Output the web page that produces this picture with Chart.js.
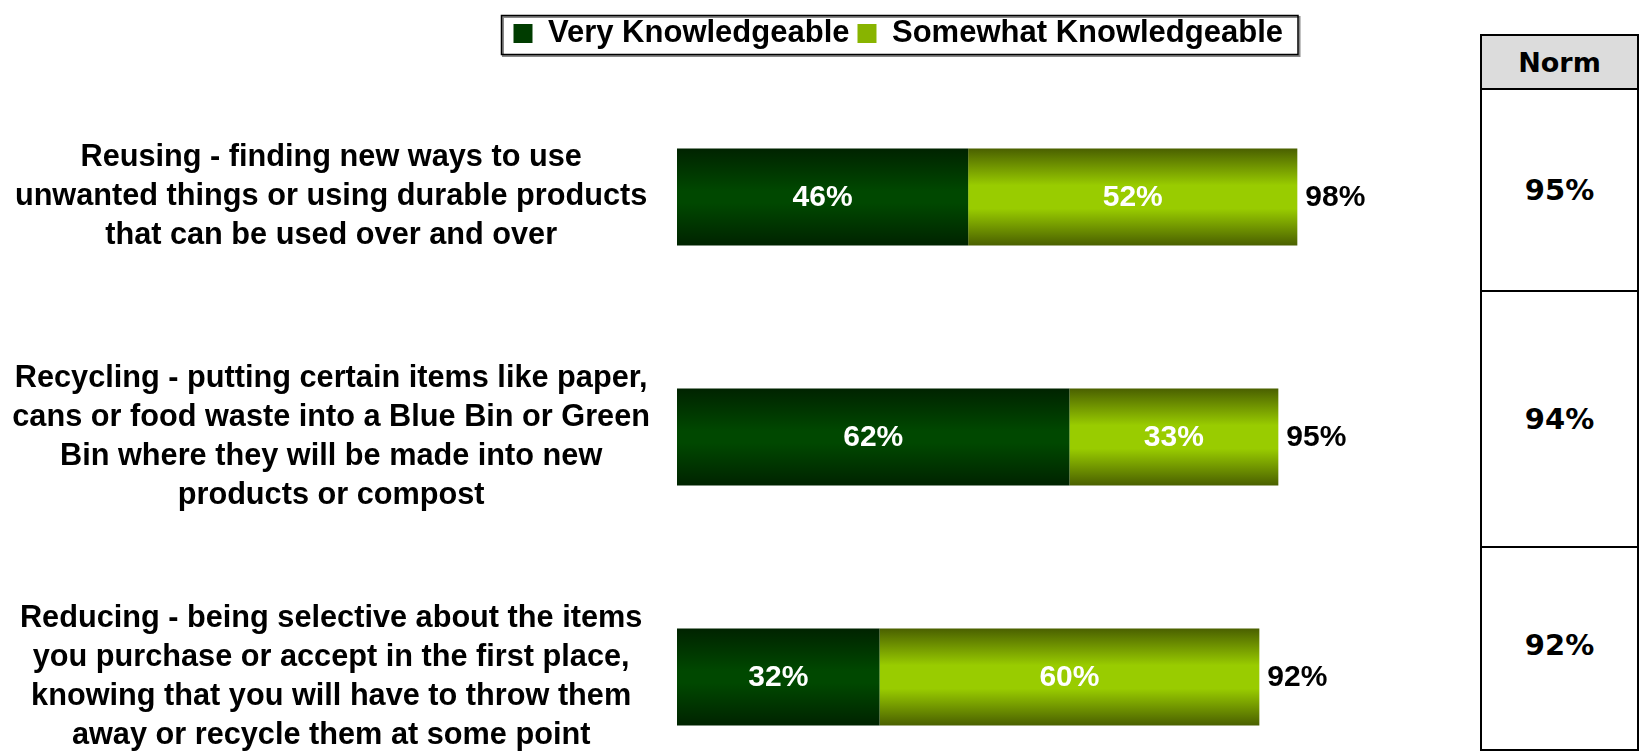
<!DOCTYPE html>
<html>
<head>
<meta charset="utf-8">
<script src="https://cdn.jsdelivr.net/npm/chart.js@4"></script>
<style>
  html, body { margin: 0; padding: 0; background: #fff; overflow: hidden; }
  #wrap { position: absolute; left: 0; top: 0; width: 1470px; height: 800px; }
  #norm { position: absolute; left: 1480px; top: 34px; width: 159px; border-collapse: collapse;
          font-family: "DejaVu Sans", Verdana, sans-serif; font-weight: bold; font-size: 29px; color: #000; }
  #norm td, #norm th { border: 2px solid #000; text-align: center; padding: 0; }
  #norm th { background: #dcdcdc; height: 52px; font-size: 27px; }
</style>
</head>
<body>
<div id="wrap"><canvas id="knowChart"></canvas></div>
<table id="norm">
  <tr><th id="normHead"></th></tr>
  <tr><td style="height:200px"></td></tr>
  <tr><td style="height:254px"></td></tr>
  <tr><td style="height:193px; padding-bottom:8px"></td></tr>
</table>
<script>
// chart data
const categories = [
    ["Reusing - finding new ways to use", "unwanted things or using durable products", "that can be used over and over"],
    ["Recycling - putting certain items like paper,", "cans or food waste into a Blue Bin or Green", "Bin where they will be made into new", "products or compost"],
    ["Reducing - being selective about the items", "you purchase or accept in the first place,", "knowing that you will have to throw them", "away or recycle them at some point"]
];
const seriesNames = ["Very Knowledgeable", "Somewhat Knowledgeable"];
const veryValues = [46, 62, 32];
const somewhatValues = [52, 33, 60];
const normTitle = "Norm";
const normValues = ["95%", "94%", "92%"];

// fill the norm table
document.getElementById("normHead").textContent = normTitle;
const normCells = document.querySelectorAll("#norm td");
normValues.forEach((v, i) => { normCells[i].textContent = v; });

const BAR_PCT = 0.404;
const FONT = "'Liberation Sans', Arial, sans-serif";

// vertical gradient across each bar
function barGradient(edge, mid, flat) {
    return function(ctx) {
        const chart = ctx.chart;
        const yScale = chart.scales.y;
        if (!chart.chartArea || !yScale || ctx.dataIndex === undefined) return mid;
        const yc = yScale.getPixelForValue(ctx.dataIndex);
        const band = Math.abs(yScale.getPixelForValue(1) - yScale.getPixelForValue(0));
        const half = band * BAR_PCT / 2;
        const g = chart.ctx.createLinearGradient(0, yc - half, 0, yc + half);
        g.addColorStop(0, edge);
        g.addColorStop(0.5 - flat, mid);
        g.addColorStop(0.5 + flat, mid);
        g.addColorStop(1, edge);
        return g;
    };
}

// labels inside the segments and totals at the end of each bar
const valueLabels = {
    id: "valueLabels",
    afterDatasetsDraw(chart) {
        const ctx = chart.ctx;
        ctx.save();
        ctx.textBaseline = "middle";
        ctx.font = "bold 30px " + FONT;
        chart.data.datasets.forEach((ds, di) => {
            const meta = chart.getDatasetMeta(di);
            meta.data.forEach((bar, i) => {
                ctx.fillStyle = "#fff";
                ctx.textAlign = "center";
                ctx.fillText(ds.data[i] + "%", (bar.x + bar.base) / 2, bar.y + 1);
            });
        });
        const last = chart.getDatasetMeta(chart.data.datasets.length - 1);
        last.data.forEach((bar, i) => {
            const total = chart.data.datasets.reduce((s, ds) => s + ds.data[i], 0);
            ctx.fillStyle = "#000";
            ctx.textAlign = "left";
            ctx.fillText(total + "%", bar.x + 8, bar.y + 1);
        });
        ctx.restore();
    }
};

// box around the legend
const legendBox = {
    id: "legendBox",
    afterDraw(chart) {
        const boxes = chart.legend.legendHitBoxes;
        if (!boxes || !boxes.length) return;
        const left = boxes[0].left - 12;
        const right = boxes[boxes.length - 1].left + boxes[boxes.length - 1].width + 15;
        const yc = boxes[0].top + boxes[0].height / 2;
        const top = yc - 18, bottom = yc + 21;
        const ctx = chart.ctx;
        ctx.save();
        ctx.strokeStyle = "#888";
        ctx.lineWidth = 2;
        ctx.strokeRect(left + 1.5, top + 1.5, right - left, bottom - top);
        ctx.strokeStyle = "#000";
        ctx.lineWidth = 1.5;
        ctx.strokeRect(left, top, right - left, bottom - top);
        ctx.restore();
    }
};

new Chart(document.getElementById("knowChart"), {
    type: "bar",
    data: {
        labels: categories,
        datasets: [{
            label: seriesNames[0],
            data: veryValues,
            clip: false,
            backgroundColor: barGradient("#002300", "#004800", 0.06),
            legendColor: "#003c00"
        }, {
            label: seriesNames[1],
            data: somewhatValues,
            clip: false,
            backgroundColor: barGradient("#4a6000", "#99cc00", 0.12),
            legendColor: "#88b400"
        }]
    },
    options: {
        indexAxis: "y",
        responsive: true,
        maintainAspectRatio: false,
        animation: false,
        categoryPercentage: 1,
        barPercentage: BAR_PCT,
        layout: { padding: { left: 0, right: 179, top: 10, bottom: 3 } },
        scales: {
            x: {
                position: "top",
                stacked: true,
                min: 0,
                max: 97,
                ticks: { display: false },
                grid: { display: false },
                border: { display: false },
                afterFit: s => { s.height = 18; }
            },
            y: {
                stacked: true,
                grid: { display: false, drawTicks: false },
                border: { display: false },
                ticks: {
                    color: "#000",
                    crossAlign: "center",
                    padding: 27,
                    font: { family: FONT, size: 30.7, weight: "bold", lineHeight: 1.27 }
                },
                afterFit: s => {
                    s.width = 677;
                    s.paddingTop = 0;
                    s.paddingBottom = 0;
                }
            }
        },
        plugins: {
            tooltip: { enabled: false },
            legend: {
                position: "top",
                align: "end",
                labels: {
                    color: "#000",
                    boxWidth: 19,
                    boxHeight: 19,
                    padding: 8,
                    font: { family: FONT, size: 31, weight: "bold" },
                    generateLabels: chart => chart.data.datasets.map((ds, i) => ({
                        text: ds.label,
                        fillStyle: ds.legendColor,
                        strokeStyle: ds.legendColor,
                        lineWidth: 0,
                        datasetIndex: i
                    }))
                }
            }
        }
    },
    plugins: [valueLabels, legendBox]
});
</script>
</body>
</html>
